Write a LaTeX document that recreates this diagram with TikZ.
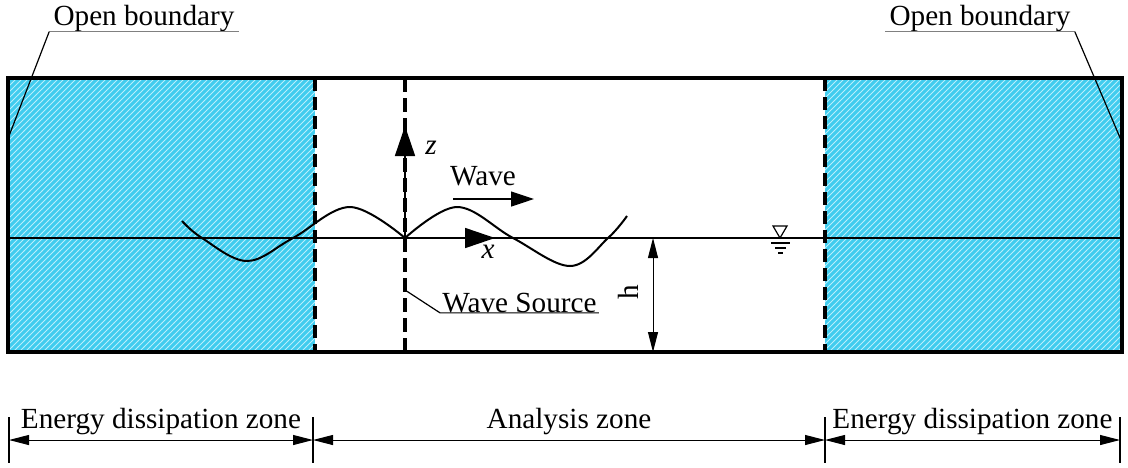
\documentclass[tikz,border=0pt]{standalone}
\usepackage{fontspec}
\setmainfont{Liberation Serif}
\usetikzlibrary{arrows.meta,patterns}
\definecolor{zonecyan}{RGB}{64,204,238}
\definecolor{zonehatch}{RGB}{185,238,252}

\begin{document}
\begin{tikzpicture}[
    x=0.5pt, y=-0.5pt,
    every node/.style={font=\fontsize{14.6}{17}\selectfont, inner sep=0pt},
    zone/.style={fill=zonecyan, postaction={pattern=north east lines, pattern color=zonehatch}},
    border/.style={line width=2pt},
    zonedash/.style={line width=1.6pt, dash pattern=on 6.5pt off 3pt},
    srcdash/.style={line width=2pt, dash pattern=on 7pt off 3pt},
    dim/.style={line width=0.5pt, {Triangle[length=10pt,width=5pt]}-{Triangle[length=10pt,width=5pt]}},
    axis/.style={line width=0.8pt, -{Triangle[length=15pt,width=10pt]}},
    leader/.style={line width=0.6pt}
]
\useasboundingbox (0,0) rectangle (1128,467);

\coordinate (tl) at (8,78);
\coordinate (br) at (1122,352);
\coordinate (wl) at (8,238);
\coordinate (wr) at (1122,238);

\path[zone] (8,78) rectangle (315,352);
\path[zone] (825,78) rectangle (1122,352);
\draw[border] (tl) rectangle (br);

\draw[zonedash] (315,78) -- (315,352);
\draw[zonedash] (825,78) -- (825,352);
\draw[line width=0.8pt] (wl) -- (wr);

\coordinate (src) at (405,238);
\coordinate (srctop) at (405,78);
\coordinate (srcbot) at (405,352);
\draw[srcdash] (srctop) -- (srcbot);

\draw[line width=1pt] plot[smooth, tension=0.6] coordinates {(182,221) (202,238) (247,261) (293,238) (350,207) (405,238)};
\draw[line width=1pt] plot[smooth, tension=0.6] coordinates {(405,238) (457,207) (513,238) (570,266) (608,238) (627,216)};

\coordinate (ztip) at (405,126);
\coordinate (xtip) at (495,238);
\draw[axis] (src) -- (ztip);
\draw[axis] (src) -- (xtip);
\node (zlab) at (431,148) {\textit{z}};
\node (xlab) at (488,252) {\textit{x}};

\node (wavelab) at (483,176) {Wave};
\coordinate (wavea) at (453,199);
\coordinate (waveb) at (534,199);
\draw[line width=0.6pt, -{Triangle[length=11.5pt,width=7.5pt]}] (wavea) -- (waveb);

\coordinate (srcpt) at (405,290);
\node[anchor=base west, inner xsep=1pt] (srclab) at (440,312) {Wave Source};
\draw[leader] (srcpt) -- (srclab.south west) -- (srclab.south east);

\node[anchor=base, inner xsep=2pt] (obl) at (144,25) {Open boundary};
\node[anchor=base, inner xsep=2pt] (obr) at (980,25) {Open boundary};
\coordinate (oblend) at (9,136);
\coordinate (obrend) at (1121,140);
\draw[leader, gray] (obl.south west) -- (obl.south east);
\draw[leader, gray] (obr.south west) -- (obr.south east);
\draw[leader] (obl.south west) -- (oblend);
\draw[leader] (obr.south east) -- (obrend);

\coordinate (htop) at (653,238);
\coordinate (hbot) at (653,352);
\draw[dim] (htop) -- (hbot);
\node[rotate=90] (hlab) at (628,292) {h};

\coordinate (lvl) at (780,238);
\draw[line width=0.6pt] (773,226) -- (787,226) -- (lvl) -- cycle;
\draw[line width=0.6pt] (771,243) -- (790,243);
\draw[line width=0.6pt] (775,248) -- (786,248);
\draw[line width=0.6pt] (778,253) -- (783,253);

\coordinate (d0) at (9,440);
\coordinate (d1) at (313,440);
\coordinate (d2) at (825,440);
\coordinate (d3) at (1120,440);
\foreach \t in {d0,d1,d2,d3}
    \draw[line width=0.6pt] ([yshift=11.5pt]\t) -- ([yshift=-11.5pt]\t);
\draw[dim] (d0) -- (d1) node[midway, anchor=base, yshift=6pt] {Energy dissipation zone};
\draw[dim] (d1) -- (d2) node[midway, anchor=base, yshift=6pt] {Analysis zone};
\draw[dim] (d2) -- (d3) node[midway, anchor=base, yshift=6pt] {Energy dissipation zone};

\end{tikzpicture}
\end{document}
